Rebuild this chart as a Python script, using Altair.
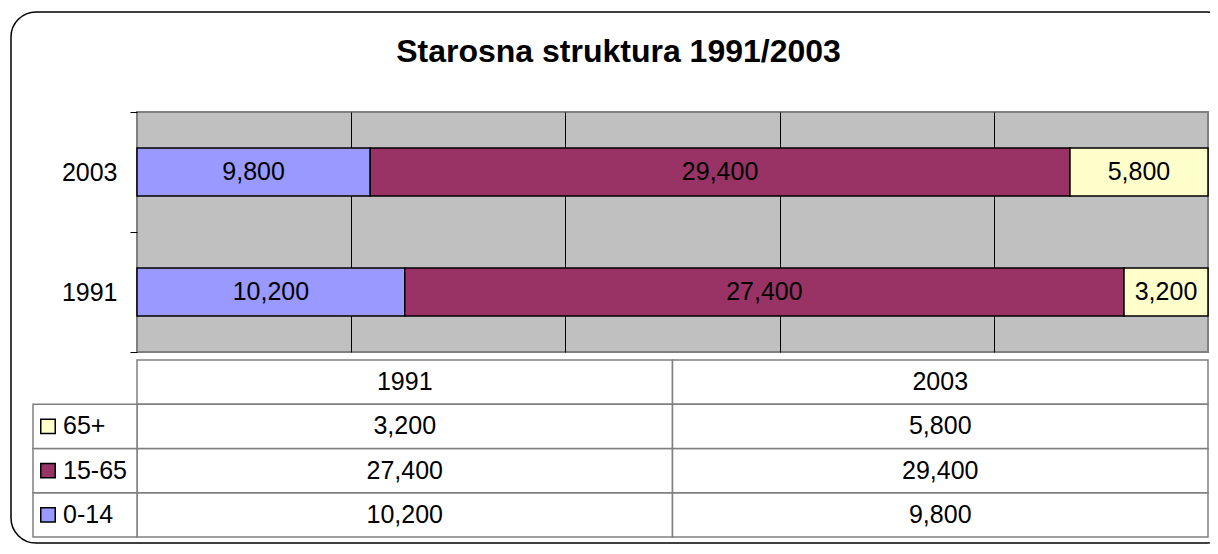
import altair as alt
import pandas as pd

TITLE = "Starosna struktura 1991/2003"
YEARS = ["1991", "2003"]
BAR_ORDER = ["2003", "1991"]
AGE_GROUPS = ["0-14", "15-65", "65+"]
VALUES_1991 = [10200, 27400, 3200]
VALUES_2003 = [9800, 29400, 5800]
COLORS = ["#9999FF", "#993366", "#FFFFCC"]
TABLE_ROWS = ["header", "65+", "15-65", "0-14"]

FONT = "Liberation Sans"
W, H = 1071, 240

values = {"1991": VALUES_1991, "2003": VALUES_2003}
rows = []
for y in YEARS:
    for i, a in enumerate(AGE_GROUPS):
        rows.append({"year": y, "age": a, "value": values[y][i], "order": i})
bars_df = pd.DataFrame(rows)

table_rows = []
for y in YEARS:
    table_rows.append({"row": "header", "col": y, "kind": "header", "label": y})
for y in YEARS:
    for i, a in enumerate(AGE_GROUPS):
        table_rows.append({"row": a, "col": y, "kind": "value", "value": values[y][i], "age": a})
legend_rows = [{"row": a, "age": a} for a in AGE_GROUPS]
table_df = pd.DataFrame(table_rows)
legend_df = pd.DataFrame(legend_rows)

color = alt.Color("age:N", scale=alt.Scale(domain=AGE_GROUPS, range=COLORS), legend=None)

# ---------- bar part ----------
xq = alt.Scale(domain=[0, 1], nice=False, zero=False)
yb = alt.Scale(domain=BAR_ORDER, paddingInner=0, paddingOuter=0)

x_axis = alt.Axis(values=[0.2, 0.4, 0.6, 0.8], grid=True, gridColor="black", gridWidth=1,
                  labels=False, ticks=False, domain=False, title=None, zindex=0)
y_axis = alt.Axis(title=None, tickBand="extent", tickSize=7, tickColor="black", tickWidth=1,
                  labelFontSize=25, labelFont=FONT, labelColor="black", labelPadding=13,
                  domain=False, grid=False)

bar_base = alt.Chart(bars_df).transform_stack(
    stack="value", as_=["x0", "x1"], groupby=["year"], offset="normalize",
    sort=[alt.SortField("order", order="ascending")]
).transform_calculate(xm="(datum.x0 + datum.x1) / 2")

bars = bar_base.mark_bar(size=48, stroke="black", strokeWidth=1.5).encode(
    x=alt.X("x0:Q", scale=xq, axis=x_axis),
    x2="x1:Q",
    y=alt.Y("year:N", scale=yb, sort=BAR_ORDER, axis=y_axis),
    color=color,
)
bar_text = bar_base.mark_text(fontSize=25, font=FONT, color="black").encode(
    x=alt.X("xm:Q", scale=xq, axis=x_axis),
    y=alt.Y("year:N", scale=yb, sort=BAR_ORDER, axis=y_axis),
    text=alt.Text("value:Q", format=","),
)
bar_group = alt.layer(bars, bar_text)

# ---------- table part ----------
xt = alt.Scale(domain=YEARS, range=[0, W], paddingInner=0, paddingOuter=0)
yt = alt.Scale(domain=TABLE_ROWS, range=[248, 425], paddingInner=0, paddingOuter=0)
tbase = alt.Chart(table_df)

cells = tbase.mark_rect(fill="white", stroke="#808080", strokeWidth=1.5).encode(
    x=alt.X("col:N", scale=xt, axis=None),
    y=alt.Y("row:N", scale=yt, axis=None),
)
legend_cells = alt.Chart(legend_df).mark_rect(fill="white", stroke="#808080", strokeWidth=1.5).encode(
    x=alt.value(-104), x2=alt.value(0),
    y=alt.Y("row:N", scale=yt, axis=None),
)
header_text = tbase.transform_filter("datum.kind == 'header'").mark_text(
    fontSize=25, font=FONT, color="black").encode(
    x=alt.X("col:N", scale=xt, axis=None),
    y=alt.Y("row:N", scale=yt, axis=None),
    text="label:N",
)
value_text = tbase.transform_filter("datum.kind == 'value'").mark_text(
    fontSize=25, font=FONT, color="black").encode(
    x=alt.X("col:N", scale=xt, axis=None),
    y=alt.Y("row:N", scale=yt, axis=None),
    text=alt.Text("value:Q", format=","),
)
legend_sq = alt.Chart(legend_df).mark_square(size=210, stroke="black", strokeWidth=1.5, opacity=1).encode(
    x=alt.value(-89),
    y=alt.Y("row:N", scale=yt, axis=None),
    color=color,
)
legend_txt = alt.Chart(legend_df).mark_text(align="left", fontSize=25, font=FONT, color="black").encode(
    x=alt.value(-74),
    y=alt.Y("row:N", scale=yt, axis=None),
    text="row:N",
)
table_group = alt.layer(cells, legend_cells, header_text, value_text, legend_sq, legend_txt)

# ---------- outer frame ----------
frame = alt.Chart(alt.Data(values=[{"f": 1}])).mark_rect(
    fill="transparent", stroke="black", strokeWidth=1.5, cornerRadius=25
).encode(x=alt.value(-126), x2=alt.value(1095), y=alt.value(-100), y2=alt.value(431))

chart = alt.layer(frame, bar_group, table_group).resolve_scale(
    x="independent", y="independent"
).properties(
    width=W, height=H,
    title=alt.TitleParams(TITLE, fontSize=32, font=FONT, fontWeight="bold", color="black",
                          anchor="middle", dx=-54, dy=92.5, baseline="alphabetic", offset=10),
    autosize=alt.AutoSizeParams(type="none"),
    padding={"left": 129, "top": 104, "right": 2, "bottom": 192},
).configure(
    font=FONT
).configure_view(
    fill="#C0C0C0", stroke="#808080", strokeWidth=2
)

chart.save("out.html", embed_options={"renderer": "svg", "actions": False})
